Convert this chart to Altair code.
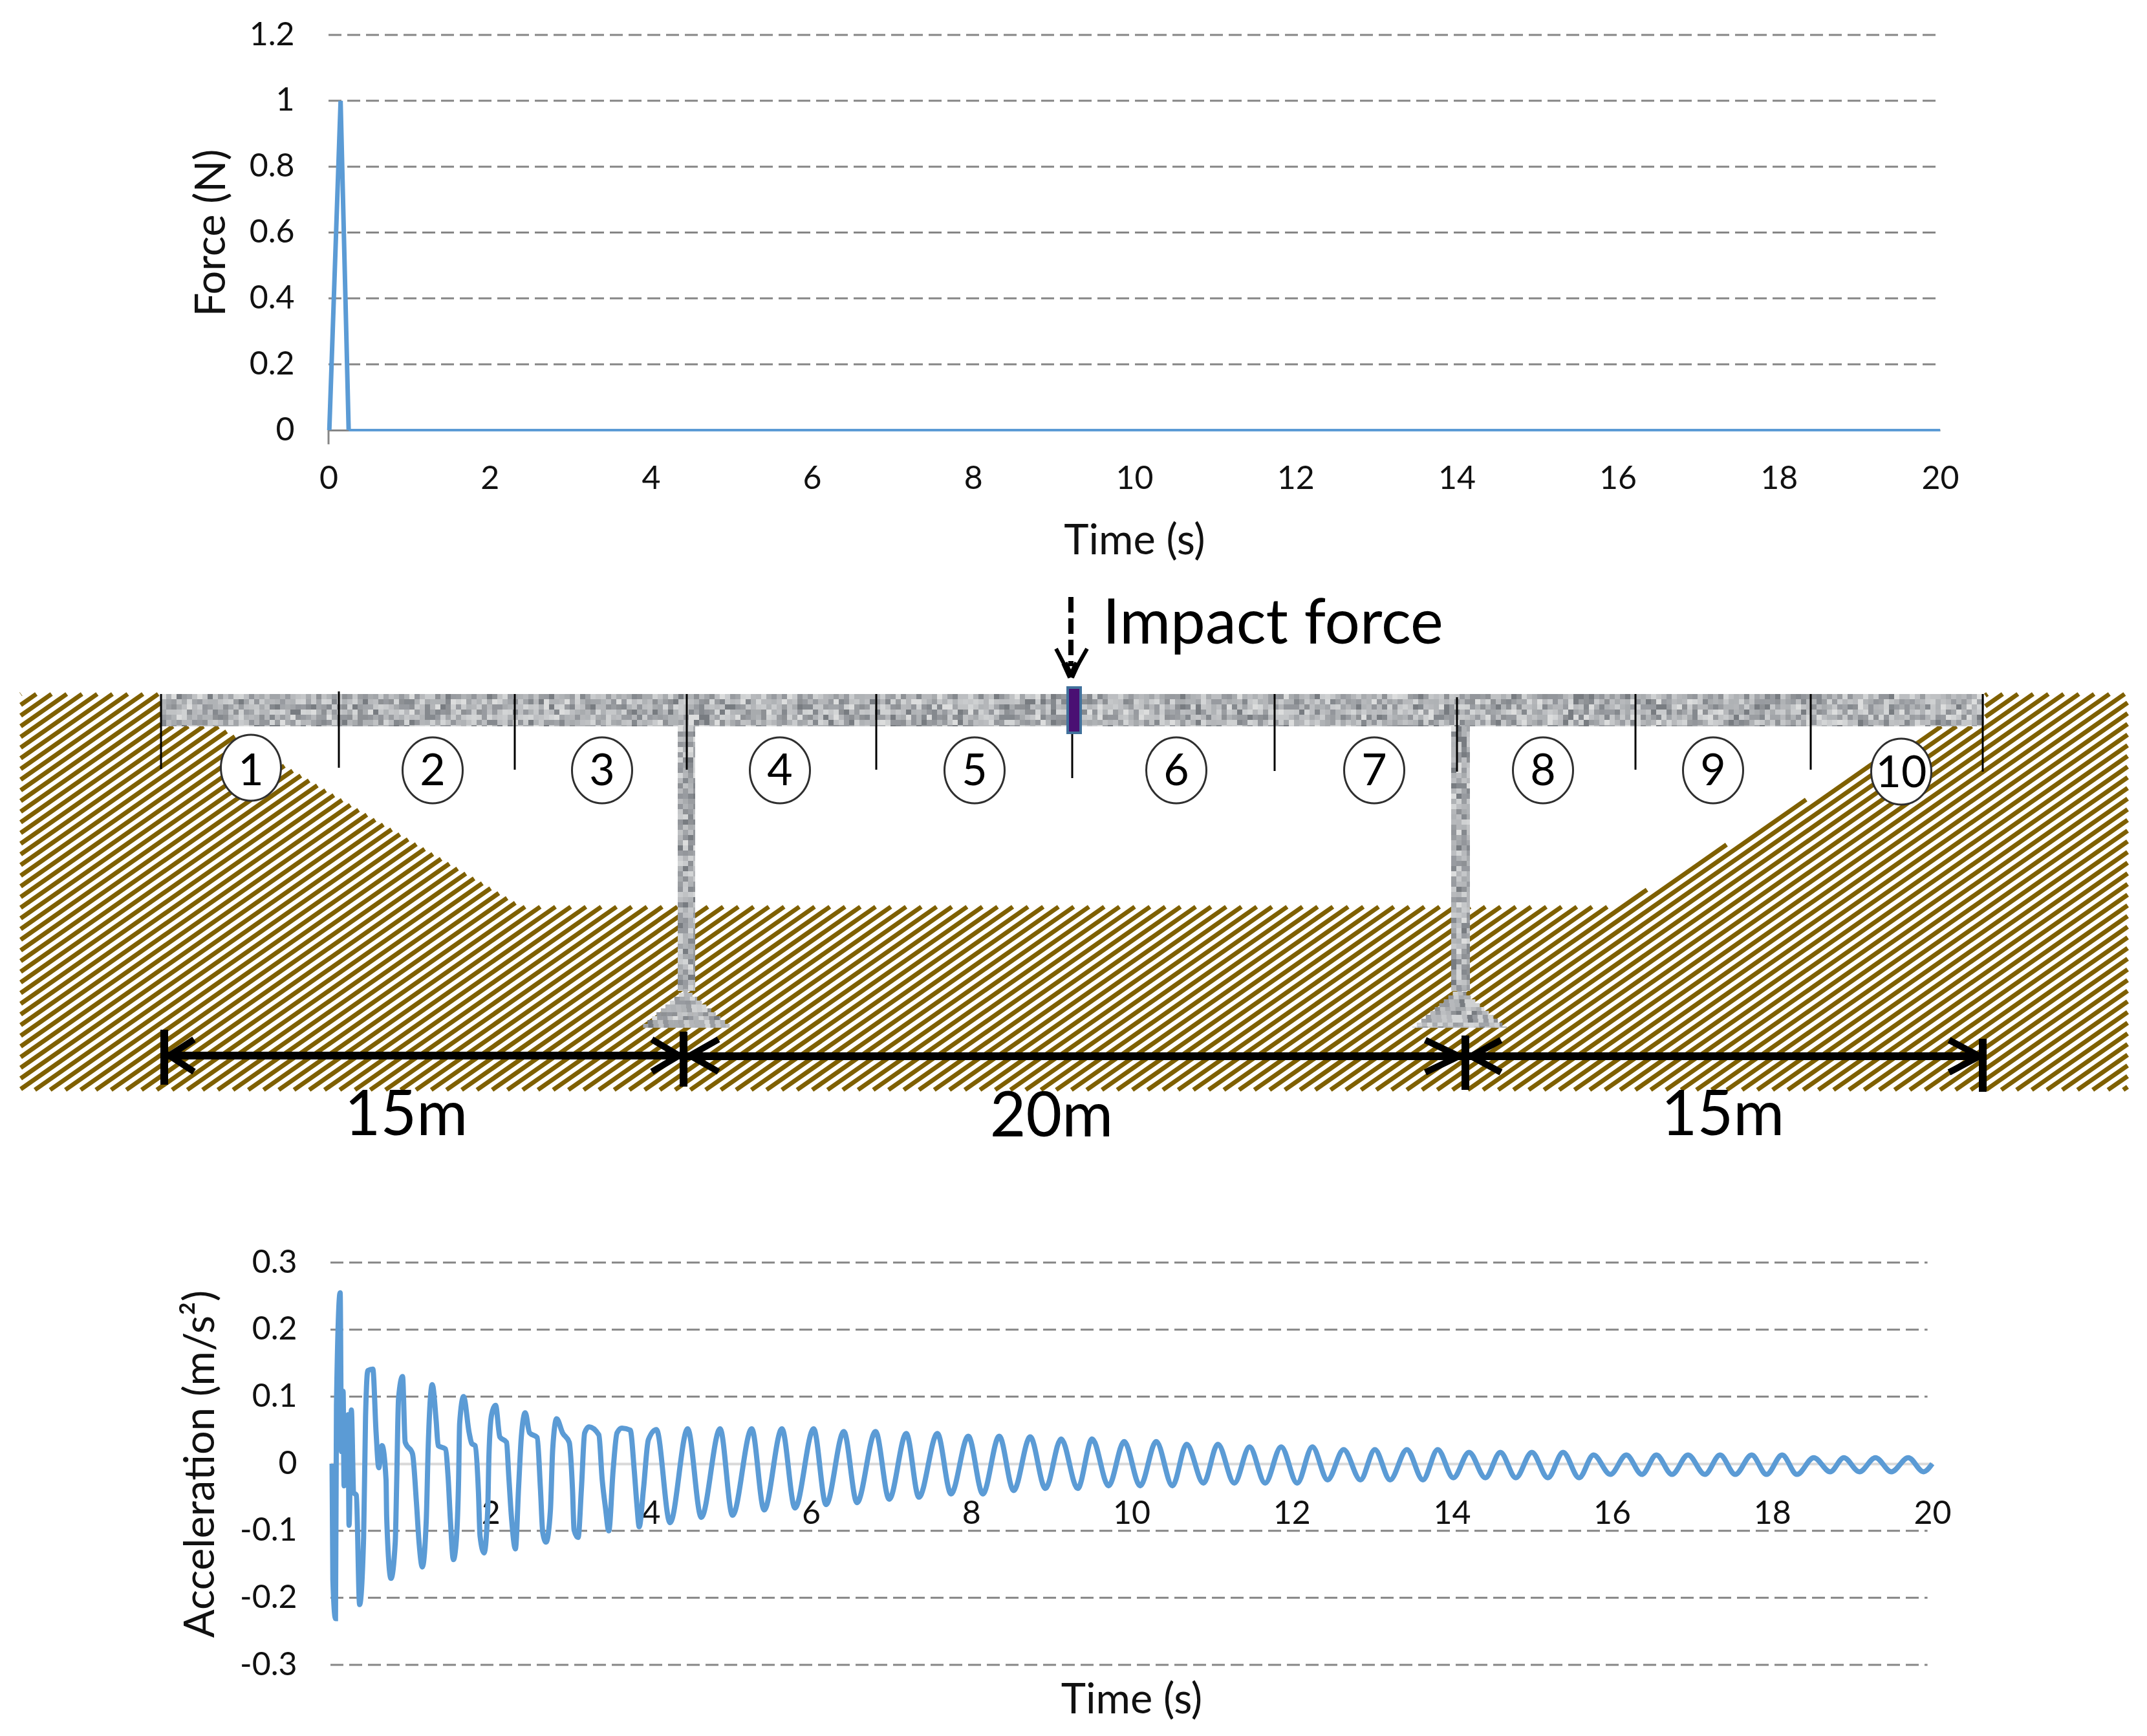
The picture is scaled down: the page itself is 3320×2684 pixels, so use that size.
import altair as alt
import pandas as pd

# ---------- values ----------
force_peak_t = [0.01, 0.15, 0.25]
force_peak_v = [0, 1, 0]
force_flat_t = [0.25, 20]
force_flat_v = [0, 0]
force_grid = [0.2, 0.4, 0.6, 0.8, 1.0, 1.2]
force_ticks = [0, 0.2, 0.4, 0.6, 0.8, 1, 1.2]
time_ticks = list(range(0, 21, 2))
accel_grid = [-0.3, -0.2, -0.1, 0.1, 0.2, 0.3]
accel_ticks = [-0.3, -0.2, -0.1, 0, 0.1, 0.2, 0.3]
accel_time_ticks = list(range(2, 21, 2))

accel_t = [0.02, 0.03, 0.063, 0.075, 0.121, 0.138, 0.158, 0.17, 0.22, 0.232, 0.261, 0.29, 0.323, 0.364,
           0.414, 0.438, 0.467, 0.529, 0.57, 0.603, 0.644, 0.694, 0.702, 0.756, 0.809, 0.826, 0.85, 0.9,
           0.933, 1.024, 1.073, 1.106, 1.147, 1.196, 1.221, 1.271, 1.32, 1.345, 1.435, 1.469, 1.498, 1.535,
           1.572, 1.6, 1.613, 1.662, 1.732, 1.765, 1.806, 1.848, 1.868, 1.918, 1.963, 1.979, 2.012, 2.062,
           2.115, 2.198, 2.227, 2.26, 2.309, 2.35, 2.383, 2.432, 2.486, 2.581, 2.622, 2.651, 2.692, 2.746,
           2.775, 2.824, 2.898, 2.981, 3.022, 3.042, 3.092, 3.133, 3.174, 3.228, 3.351, 3.393, 3.434, 3.475,
           3.529, 3.578, 3.64, 3.743, 3.793, 3.826, 3.855, 3.908, 3.97,
           4.07, 4.24, 4.46, 4.63, 4.865, 5.02, 5.26, 5.415, 5.637, 5.80, 6.033, 6.188, 6.41, 6.574, 6.806, 6.976,
           7.19, 7.347, 7.578, 7.748, 7.964, 8.145, 8.35, 8.53, 8.737, 8.927, 9.123, 9.33, 9.51, 9.715, 9.91,
           10.11, 10.31, 10.513, 10.69, 10.90, 11.08, 11.285, 11.476, 11.67, 11.87,
           12.07, 12.26, 12.45, 12.65, 12.86, 13.04, 13.23, 13.44, 13.64, 13.825, 14.02, 14.216, 14.42, 14.607,
           14.8, 15.0, 15.2, 15.39, 15.59, 15.77, 15.98, 16.18, 16.375, 16.555, 16.75, 16.95, 17.16, 17.35,
           17.54, 17.745, 17.93, 18.125, 18.31, 18.52, 18.725, 18.895, 19.09, 19.29, 19.49, 19.7, 19.89, 20.0]
accel_v = [0, -0.173, -0.231, 0.087, 0.255, 0.018, 0.108, -0.033, 0.073, -0.092, 0.08, -0.043, -0.047, -0.21,
           -0.11, 0.069, 0.139, 0.141, 0.046, -0.006, 0.027, -0.024, -0.08, -0.171, -0.117, -0.033, 0.097, 0.13,
           0.032, 0.015, -0.057, -0.117, -0.154, -0.085, 0.027, 0.118, 0.064, 0.027, 0.022, -0.02, -0.085, -0.143,
           -0.113, -0.024, 0.06, 0.10, 0.046, 0.03, 0.027, -0.043, -0.108, -0.133, -0.07, 0.013, 0.073, 0.087,
           0.04, 0.032, -0.02, -0.08, -0.127, -0.033, 0.04, 0.076, 0.046, 0.039, -0.038, -0.103, -0.117, -0.07,
           0.022, 0.067, 0.046, 0.032, -0.038, -0.099, -0.11, -0.038, 0.046, 0.055, 0.043, -0.024, -0.066, -0.10,
           -0.01, 0.046, 0.053, 0.05, -0.01, -0.061, -0.094, -0.038, 0.036,
           0.051, -0.088, 0.052, -0.08, 0.052, -0.077, 0.052, -0.069, 0.052, -0.066, 0.052, -0.061, 0.048, -0.058,
           0.048, -0.053, 0.045, -0.05, 0.045, -0.045, 0.041, -0.045, 0.041, -0.04, 0.04, -0.037, 0.037, -0.037,
           0.037, -0.033, 0.033, -0.033, 0.033, -0.033, 0.029, -0.029, 0.029, -0.029, 0.025, -0.029, 0.025,
           -0.029, 0.025, -0.024, 0.021, -0.024, 0.021, -0.024, 0.021, -0.024, 0.021, -0.021, 0.017, -0.021, 0.017,
           -0.021, 0.017, -0.021, 0.017, -0.021, 0.013, -0.016, 0.013, -0.016, 0.013, -0.016, 0.013, -0.016, 0.013,
           -0.016, 0.013, -0.016, 0.013, -0.016, 0.009, -0.012, 0.009, -0.012, 0.009, -0.012, 0.009, -0.012, 0.0]

# diagram, in reference picture units
ground_outline = [(32, 1073), (249, 1073), (249, 1123), (337, 1123), (807, 1402), (2500, 1402), (2993, 1123),
                  (3070, 1123), (3070, 1073), (3290, 1073), (3290, 1685), (32, 1685)]
beam_box = (249, 3068, 1073, 1123)
pier_boxes = [(1048, 1075, 1123, 1532), (2244, 2273, 1123, 1532)]
footings = [(1060, 991, 1132, 1529, 1589), (2257, 2185, 2329, 1527, 1589)]
element_x = [249, 524, 796, 1062, 1355, 1658, 1971, 2253, 2529, 2800, 3066]
element_top = [1073, 1069, 1073, 1073, 1073, 1135, 1073, 1078, 1073, 1073, 1073]
element_end = [1189, 1187, 1190, 1190, 1190, 1203, 1192, 1193, 1190, 1190, 1193]
circle_x = [388, 669, 931, 1206, 1507, 1819, 2125, 2386, 2649, 2940]
circle_y = [1187, 1191, 1191, 1191, 1191, 1191, 1191, 1191, 1191, 1193]
circle_labels = ["1", "2", "3", "4", "5", "6", "7", "8", "9", "10"]
circle_base = [1214, 1214, 1214, 1214, 1214, 1214, 1214, 1214, 1214, 1217]
dim_bars = [(254, 1592, 1677), (1057, 1595, 1680), (2266, 1601, 1685), (3066, 1606, 1688)]
dim_spans = [(254, 1057, 1632), (1057, 2266, 1633), (2266, 3066, 1633)]
dim_heads = [(262, 300, 1632), (1050, 1008, 1632), (1067, 1111, 1632), (2256, 2204, 1633), (2275, 2321, 1633),
             (3061, 3014, 1633)]
dim_labels = ["15m", "20m", "15m"]
dim_label_x = [628, 1626, 2664]
dim_label_y = [1755, 1757, 1755]
grey_cycle = ["#c9cbcd", "#9a9da1", "#b7b9bc", "#85898e", "#d3d5d6", "#a8abae", "#93969b", "#c0c2c4", "#787c81",
              "#b0b3b6", "#dcdddd", "#989ba0", "#bcbec1", "#8e9195", "#cfd1d2", "#a2a5a9", "#afb2b5", "#c5c7c9",
              "#b4b6b9"]

BLUE = "#5b9bd5"
GRID = "#868686"
FONT = "Lato"
W, H = 3304, 2668
LABEL = 50
TITLE = 65
HATCH_SLOPE = 0.7
HATCH_STEP = 16.5
ELLIPSE = "M0,-1.02A0.93,1.02 0 1,1 0,1.02A0.93,1.02 0 1,1 0,-1.02Z"


def grey(i, j):
    h = ((i * 73856093) ^ (j * 19349663) ^ (i * j * 83492791)) & 0xFFFFFF
    return grey_cycle[(h >> 5) % len(grey_cycle)]


# hatch stripes cut to the ground outline
rows = []
c = 1073 + HATCH_SLOPE * 32 + 0.37
while c < 1685 + HATCH_SLOPE * 3290:
    hits = []
    n = len(ground_outline)
    for k in range(n):
        (x1, y1), (x2, y2) = ground_outline[k], ground_outline[(k + 1) % n]
        d1 = y1 + HATCH_SLOPE * x1 - c
        d2 = y2 + HATCH_SLOPE * x2 - c
        if (d1 < 0) != (d2 < 0):
            f = d1 / (d1 - d2)
            hits.append(x1 + f * (x2 - x1))
    hits.sort()
    for a, b in zip(hits[::2], hits[1::2]):
        rows.append({"x": a, "y": c - HATCH_SLOPE * a, "x2": b, "y2": c - HATCH_SLOPE * b})
    c += HATCH_STEP
hatch = pd.DataFrame(rows)

# textured concrete
cells = []
CELL = 8


def fill_box(x0, x1, y0, y1):
    j = int(y0 / CELL)
    y = y0
    while y < y1:
        i = int(x0 / CELL)
        x = x0
        while x < x1:
            cells.append({"x": x, "x2": min(x + CELL + 0.5, x1), "y": y, "y2": min(y + CELL + 0.5, y1),
                          "c": grey(i, j)})
            x += CELL
            i += 1
        y += CELL
        j += 1


fill_box(beam_box[0], beam_box[1], beam_box[2], beam_box[3])
for b in pier_boxes:
    fill_box(*b)
for apex, left, right, top, base in footings:
    y = top
    while y < base:
        f = (y + 3 - top) / (base - top)
        fill_box(apex - (apex - left) * f, apex + (right - apex) * f, y, min(y + 6, base))
        y += 6
cells = pd.DataFrame(cells)

# black strokes
seg = []
for x, t, e in zip(element_x, element_top, element_end):
    seg.append((x, t, x, e, 3))
for x, t, e in dim_bars:
    seg.append((x, t, x, e, 12))
for a, b, y in dim_spans:
    seg.append((a, y, b, y, 12))
for tip, end, y in dim_heads:
    seg.append((tip, y, end, y - 25, 10))
    seg.append((tip, y, end, y + 25, 10))
seg.append((1633, 1003, 1656, 1047, 6))
seg.append((1681, 1003, 1656, 1047, 6))
seg.append((1646, 1025, 1656, 1047, 10))
seg.append((1666, 1025, 1656, 1047, 10))
segs = pd.DataFrame(seg, columns=["x", "y", "x2", "y2", "w"])

sx = alt.Scale(domain=[8, 8 + W], range=[0, W], nice=False, zero=False)
sy = alt.Scale(domain=[8, 8 + H], range=[0, H], nice=False, zero=False)


def X(f):
    return alt.X(f, type="quantitative", scale=sx, axis=None)


def Y(f):
    return alt.Y(f, type="quantitative", scale=sy, axis=None)


hatch_l = alt.Chart(hatch).mark_rule(color="#7f6000", strokeWidth=7).encode(
    x=X("x"), y=Y("y"), x2="x2:Q", y2="y2:Q")
cell_l = alt.Chart(cells).mark_rect(strokeWidth=0).encode(
    x=X("x"), y=Y("y"), x2="x2:Q", y2="y2:Q", color=alt.Color("c:N", scale=None))
seg_l = alt.Chart(segs).mark_rule(color="black").encode(
    x=X("x"), y=Y("y"), x2="x2:Q", y2="y2:Q", strokeWidth=alt.StrokeWidth("w:Q", scale=None))
dash_l = alt.Chart(pd.DataFrame({"x": [1656], "y": [923], "y2": [1030]})).mark_rule(
    color="black", strokeWidth=8, strokeDash=[24, 9]).encode(x=X("x"), y=Y("y"), y2="y2:Q")
box_l = alt.Chart(pd.DataFrame({"x": [1651], "x2": [1671], "y": [1063], "y2": [1133]})).mark_rect(
    color="#4a1073", stroke="#41719c", strokeWidth=4).encode(x=X("x"), x2="x2:Q", y=Y("y"), y2="y2:Q")
circle_df = pd.DataFrame({"x": circle_x, "y": circle_y})
circle_l = alt.Chart(circle_df).mark_point(
    shape=ELLIPSE, filled=False, fill="white", fillOpacity=1, stroke="#2f2f2f", strokeWidth=3, size=10000, opacity=1
).encode(x=X("x"), y=Y("y"))
circle_txt = alt.Chart(pd.DataFrame({"x": circle_x, "y": circle_base, "t": circle_labels})).mark_text(
    font=FONT, fontSize=68, color="black", align="center", baseline="alphabetic").encode(
    x=X("x"), y=Y("y"), text="t:N")
dim_txt = alt.Chart(pd.DataFrame({"x": dim_label_x, "y": dim_label_y, "t": dim_labels})).mark_text(
    font=FONT, fontSize=96, color="black", align="center", baseline="alphabetic").encode(
    x=X("x"), y=Y("y"), text="t:N")
impact_txt = alt.Chart(pd.DataFrame({"x": [1705], "y": [995], "t": ["Impact force"]})).mark_text(
    font=FONT, fontSize=96, color="black", align="left", baseline="alphabetic").encode(
    x=X("x"), y=Y("y"), text="t:N")

# force
fx = alt.Scale(domain=[0, 20], range=[500, 2992], nice=False, zero=False)
fy = alt.Scale(domain=[0, 1.2], range=[657, 46], nice=False, zero=False)
f_x_axis = alt.Axis(orient="bottom", offset=657 - H, values=time_ticks, title="Time (s)", ticks=False, grid=False,
                    domainColor=GRID, domainWidth=3, labelFont=FONT, labelFontSize=LABEL, labelColor="#111111",
                    labelPadding=50, labelFlush=False, labelOverlap=False, titleFont=FONT, titleFontSize=TITLE,
                    titleFontWeight="normal", titleColor="#111111", titlePadding=40)
f_y_axis = alt.Axis(orient="left", offset=-500, values=force_ticks, title="Force (N)", ticks=False, grid=False,
                    domain=False, labelExpr="'' + datum.value", labelFont=FONT, labelFontSize=LABEL,
                    labelColor="#111111", labelPadding=53, labelOverlap=False, titleFont=FONT, titleFontSize=TITLE,
                    titleFontWeight="normal", titleColor="#111111", titlePadding=24)
f_grid = alt.Chart(pd.DataFrame({"v": force_grid, "a": 0, "b": 20})).mark_rule(
    color=GRID, strokeWidth=3, strokeDash=[20, 9]).encode(
    x=alt.X("a:Q", scale=fx, axis=f_x_axis), x2="b:Q", y=alt.Y("v:Q", scale=fy, axis=f_y_axis))
f_tick = alt.Chart(pd.DataFrame({"t": [0], "a": [0], "b": [-0.043]})).mark_rule(color=GRID, strokeWidth=3).encode(
    x=alt.X("t:Q", scale=fx, axis=None), y=alt.Y("a:Q", scale=fy, axis=None), y2="b:Q")
f_peak = alt.Chart(pd.DataFrame({"t": force_peak_t, "v": force_peak_v})).mark_line(color=BLUE, strokeWidth=7).encode(
    x=alt.X("t:Q", scale=fx, axis=None), y=alt.Y("v:Q", scale=fy, axis=None))
f_flat = alt.Chart(pd.DataFrame({"t": force_flat_t, "v": force_flat_v})).mark_line(color=BLUE, strokeWidth=4).encode(
    x=alt.X("t:Q", scale=fx, axis=None), y=alt.Y("v:Q", scale=fy, axis=None))

# acceleration
ax = alt.Scale(domain=[0, 20], range=[503, 2980], nice=False, zero=False)
ay = alt.Scale(domain=[-0.3, 0.3], range=[2566, 1944], nice=False, zero=False)
a_x_axis = alt.Axis(orient="bottom", offset=2255 - H, values=accel_time_ticks, title="Time (s)", ticks=False,
                    grid=False, domainColor="#d9d9d9", domainWidth=4, labelFont=FONT, labelFontSize=LABEL,
                    labelColor="#111111", labelPadding=52, labelFlush=False, labelOverlap=False, titleFont=FONT,
                    titleFontSize=TITLE, titleFontWeight="normal", titleColor="#111111", titlePadding=232)
a_y_axis = alt.Axis(orient="left", offset=-503, values=accel_ticks, title="Acceleration (m/s²)", ticks=False,
                    grid=False, domain=False, labelExpr="'' + datum.value", labelFont=FONT, labelFontSize=LABEL,
                    labelColor="#111111", labelPadding=52, labelOverlap=False, titleFont=FONT, titleFontSize=TITLE,
                    titleFontWeight="normal", titleColor="#111111", titlePadding=26)
a_grid = alt.Chart(pd.DataFrame({"v": accel_grid, "a": 0, "b": 19.94})).mark_rule(
    color=GRID, strokeWidth=3, strokeDash=[20, 9]).encode(
    x=alt.X("a:Q", scale=ax, axis=a_x_axis), x2="b:Q", y=alt.Y("v:Q", scale=ay, axis=a_y_axis))
a_line = alt.Chart(pd.DataFrame({"t": accel_t, "v": accel_v})).mark_line(
    color=BLUE, strokeWidth=8, interpolate="monotone").encode(
    x=alt.X("t:Q", scale=ax, axis=None), y=alt.Y("v:Q", scale=ay, axis=None))

chart = alt.layer(hatch_l, cell_l, seg_l, dash_l, box_l, circle_l, circle_txt, dim_txt, impact_txt,
                  f_grid, f_tick, f_peak, f_flat, a_grid, a_line).resolve_scale(
    x="independent", y="independent").properties(
    width=W, height=H, padding=0, autosize=alt.AutoSizeParams(type="none", contains="content")
).configure_view(stroke=None)

chart.save("out.html", embed_options={"renderer": "svg", "actions": False})
